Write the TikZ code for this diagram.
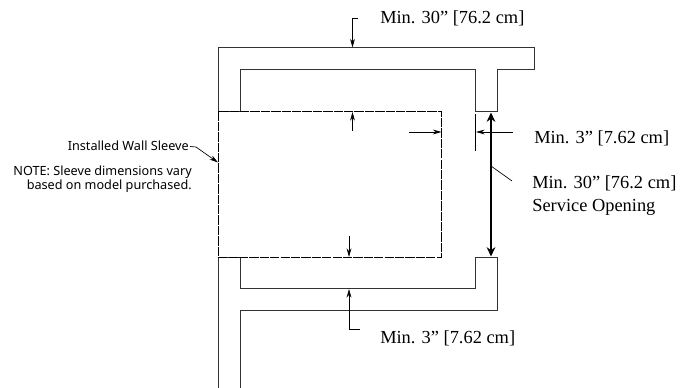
\documentclass[tikz,border=0pt]{standalone}
\usepackage{fontspec}
\setmainfont{Liberation Serif}
\newfontfamily\labelsans{Noto Sans}
\usetikzlibrary{arrows.meta}
\begin{document}
\begin{tikzpicture}[x=0.75pt,y=-0.75pt,
  wall/.style={draw=black!80,line width=0.8pt,line join=miter},
  sleeve/.style={draw=black,line width=0.8pt,dash pattern=on 7pt off 0.8pt},
  dim/.style={draw=black,line width=0.5pt,-{Stealth[length=6.5pt,width=3.6pt]}},
  tick/.style={draw=black,line width=0.5pt},
  span/.style={draw=black,line width=2.2pt,{Stealth[length=7pt,width=6.5pt]}-{Stealth[length=7pt,width=6.5pt]}},
  serif/.style={font=\fontsize{13.8pt}{16pt}\selectfont,inner sep=0pt,anchor=west},
  sans/.style={font=\labelsans\fontsize{9.5pt}{10.5pt}\selectfont,inner sep=0pt,anchor=east,align=right}]
\useasboundingbox (0,0) rectangle (688,388);
% walls
\draw[wall] (218.5,111.5) -- (218.5,47.5) -- (534.5,47.5) -- (534.5,69.5) -- (497.5,69.5) -- (497.5,111.5) -- (475.5,111.5) -- (475.5,69.5) -- (240.5,69.5) -- (240.5,111.5);
\draw[wall] (218.5,388) -- (218.5,257.5);
\draw[wall] (240.5,257.5) -- (240.5,288.5) -- (475.5,288.5) -- (475.5,257.5) -- (497.5,257.5) -- (497.5,310.5) -- (240.5,310.5) -- (240.5,388);
\draw[wall] (218.5,111.5) -- (240.5,111.5);
\draw[wall] (218.5,257.5) -- (240.5,257.5);
% sleeve
\draw[sleeve] (218.5,111.5) rectangle (441.5,257.5);
% coordinates
\coordinate (topTick) at (358,18);
\coordinate (topBend) at (352.5,18);
\coordinate (topEnd) at (352.5,47.5);
\coordinate (upStart) at (352.5,131);
\coordinate (upEnd) at (352.5,112);
\coordinate (rightStart) at (409,132);
\coordinate (rightEnd) at (441.5,132);
\coordinate (gapTickA) at (475.5,114);
\coordinate (gapTickB) at (475.5,151);
\coordinate (gapStart) at (513,132);
\coordinate (gapEnd) at (476,132);
\coordinate (openTop) at (491,112.5);
\coordinate (openBot) at (491,256.5);
\coordinate (openLeadA) at (491,166);
\coordinate (openLeadB) at (512,181);
\coordinate (downStart) at (349,236);
\coordinate (downEnd) at (349,257);
\coordinate (lowTick) at (360,329.5);
\coordinate (lowBend) at (349,329.5);
\coordinate (lowEnd) at (349,289);
\coordinate (sleeveA) at (190,146.5);
\coordinate (sleeveB) at (196,147);
\coordinate (sleeveC) at (218,162.5);
% labels
\node[serif] (top) at (380,18) {Min. 30” [76.2 cm]};
\node[serif] (gap) at (534,138) {Min. 3” [7.62 cm]};
\node[serif] (open) at (532,183) {Min. 30” [76.2 cm]};
\node[serif] (svc) at (532,207) {Service Opening};
\node[serif] (low) at (380,338) {Min. 3” [7.62 cm]};
\node[sans] (inst) at (189,146) {Installed Wall Sleeve};
\node[sans] (note) at (192,179) {NOTE: Sleeve dimensions vary\\based on model purchased.};
% dimensions
\draw[tick] (topTick) -- (topBend);
\draw[dim] (topBend) -- (topEnd);
\draw[dim] (upStart) -- (upEnd);
\draw[dim] (rightStart) -- (rightEnd);
\draw[tick] (gapTickA) -- (gapTickB);
\draw[dim] (gapStart) -- (gapEnd);
\draw[span] (openTop) -- (openBot);
\draw[tick] (openLeadA) -- (openLeadB);
\draw[dim] (downStart) -- (downEnd);
\draw[tick] (lowTick) -- (lowBend);
\draw[dim] (lowBend) -- (lowEnd);
\draw[tick] (sleeveA) -- (sleeveB);
\draw[dim] (sleeveB) -- (sleeveC);
\end{tikzpicture}
\end{document}
